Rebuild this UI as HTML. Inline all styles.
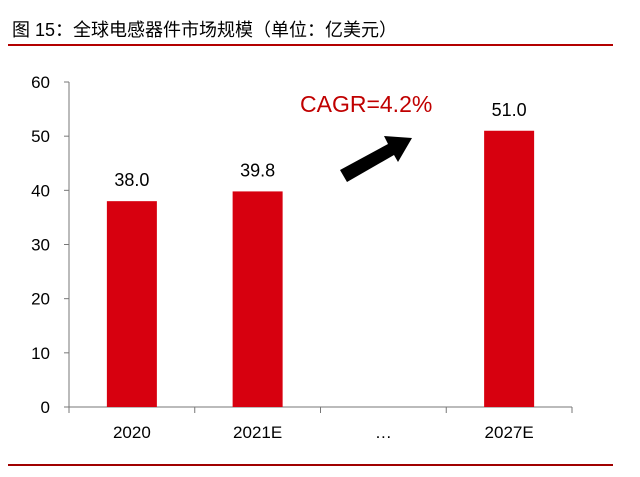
<!DOCTYPE html>
<html><head><meta charset="utf-8"><style>
body{margin:0;width:640px;height:472px;background:#fff;overflow:hidden;font-family:"Liberation Sans","Noto Sans CJK SC",sans-serif}
</style></head><body>
<svg width="640" height="472">
<text x="12" y="36" font-size="18" fill="#000" font-family="Liberation Sans, Noto Sans CJK SC, sans-serif">图 15：全球电感器件市场规模（单位：亿美元）</text>
<line x1="8" y1="45" x2="613" y2="45" stroke="#b30000" stroke-width="2"/>
<line x1="8" y1="465" x2="613" y2="465" stroke="#a00000" stroke-width="2"/>
<g id="plot"></g>
<text x="300" y="112" font-size="23" fill="#c00000">CAGR=4.2%</text>
<polygon points="340,170 388,144 384,136 412,138 398,162 394,155 347,182" fill="#000"/>
</svg>
<script>
const categories=["2020","2021E","…","2027E"];
const values=[38.0,39.8,null,51.0];
const valueLabels=["38.0","39.8","","51.0"];
const yTicks=[0,10,20,30,40,50,60];
const g=document.getElementById('plot');const NS="http://www.w3.org/2000/svg";
const x0=69,x1=572,yb=407,yt=82,ymax=60;
const cw=(x1-x0)/categories.length;
const y=v=>yb-(yb-yt)*v/ymax;
function mk(t,a){const e=document.createElementNS(NS,t);for(const k in a)e.setAttribute(k,a[k]);g.appendChild(e);return e;}
let ax=mk('line',{x1:x0,y1:yt,x2:x0,y2:yb,stroke:'#777'});


let bx=mk('line',{x1:x0,y1:yb,x2:x1,y2:yb,stroke:'#777'});


yTicks.forEach(v=>{
 const t=mk('line',{x1:x0-5,y1:y(v),x2:x0,y2:y(v),stroke:'#777'});
 
 
 const l=mk('text',{x:50,y:y(v)+6,'font-size':17,'text-anchor':'end',fill:'#000'});l.textContent=v;
 
 
});
for(let i=0;i<=categories.length;i++){
 const t=mk('line',{x1:x0+i*cw,y1:yb,x2:x0+i*cw,y2:yb+6,stroke:'#777'});
 
 
}
categories.forEach((c,i)=>{
 const cx=x0+cw*(i+0.5);
 const l=mk('text',{x:cx,y:yb+31,'font-size':17,'text-anchor':'middle',fill:'#000'});l.textContent=c;
 
 
 if(values[i]!=null){
  const b=mk('rect',{x:cx-25,y:y(values[i]),width:50,height:yb-y(values[i]),fill:'#d7000f'});
  
  
  const v=mk('text',{x:cx,y:y(values[i])-15,'font-size':18,'text-anchor':'middle',fill:'#000'});v.textContent=valueLabels[i];
  
  
 }
});
</script>
</body></html>
